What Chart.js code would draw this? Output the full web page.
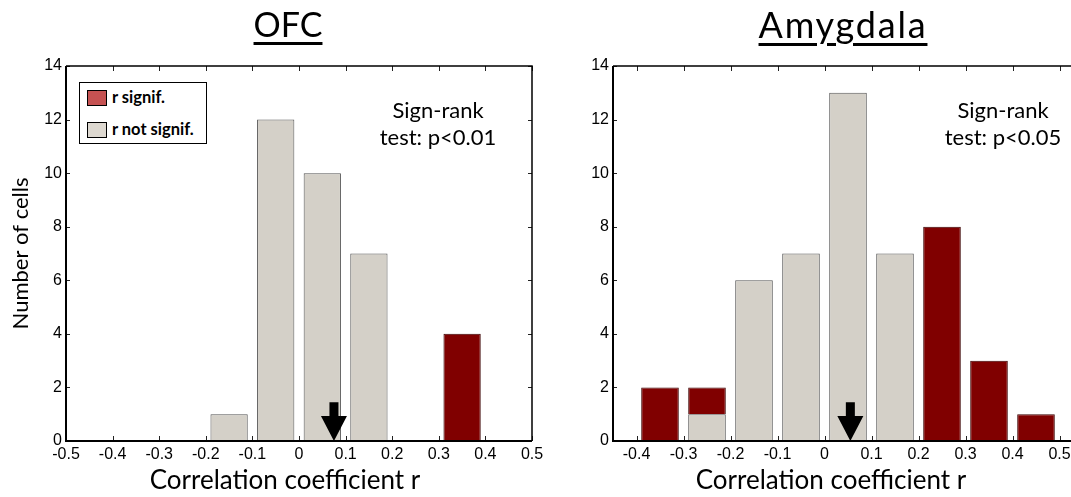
<!DOCTYPE html>
<html>
<head>
<meta charset="utf-8">
<script src="https://cdn.jsdelivr.net/npm/chart.js@4.4.1/dist/chart.umd.min.js"></script>
<style>
    html, body { margin: 0; padding: 0; width: 1071px; height: 497px; overflow: hidden; background: #fff; }
    #wrap { position: relative; width: 1071px; height: 497px; overflow: hidden; }
    canvas { position: absolute; top: 0; }
    #ofcChart { left: 0; }
    #amyChart { left: 540px; }
    .panelTitle {
        position: absolute; top: 7px; transform: translateX(-50%);
        font-family: Lato, sans-serif; font-size: 34px; line-height: 1; white-space: nowrap;
        text-decoration: underline; text-decoration-thickness: 3px; text-underline-offset: 5px;
    }
    .note {
        position: absolute; top: 96px; transform: translateX(-50%);
        font-family: Lato, sans-serif; font-size: 22px; line-height: 27px;
        text-align: center; white-space: nowrap;
    }
    #legend {
        position: absolute; left: 79px; top: 82px; width: 126px; height: 60px;
        border: 1.5px solid #000; background: #fff;
        font-family: Lato, sans-serif; font-weight: bold; font-size: 16.5px;
    }
    #legend .sw { position: absolute; left: 7px; width: 18px; height: 14px; border: 1px solid #000; }
    #legend .lb { position: absolute; left: 32px; line-height: 18px; white-space: nowrap; }
</style>
</head>
<body>
<div id="wrap">
    <canvas id="ofcChart" width="570" height="497"></canvas>
    <canvas id="amyChart" width="582" height="497"></canvas>

    <div class="panelTitle" style="left:288px;">OFC</div>
    <div class="panelTitle" style="left:843px; top:6px; font-size:36px; letter-spacing:1.8px;">Amygdala</div>

    <div class="note" style="left:438px;">Sign-rank<br>test: p&lt;0.01</div>
    <div class="note" style="left:1003px;">Sign-rank<br>test: p&lt;0.05</div>

    <div id="legend">
        <div class="sw" style="top:7px; background:#c55252;"></div>
        <div class="lb" style="top:5px;">r signif.</div>
        <div class="sw" style="top:39px; background:#ddd8d0;"></div>
        <div class="lb" style="top:37px;">r not signif.</div>
    </div>
</div>

<script>
// Histogram bins (centre of each 0.1-wide bin)
const binCenters = [-0.45, -0.35, -0.25, -0.15, -0.05, 0.05, 0.15, 0.25, 0.35, 0.45];

// OFC counts
const ofcNotSig = [0, 0, 0, 1, 12, 10, 7, 0, 0, 0];
const ofcSig    = [0, 0, 0, 0, 0, 0, 0, 0, 4, 0];

// Amygdala counts
const amyNotSig = [0, 0, 1, 6, 7, 13, 7, 0, 0, 0];
const amySig    = [0, 2, 1, 0, 0, 0, 0, 8, 3, 1];

// Tick labels
const ofcTicks = [-0.5, -0.4, -0.3, -0.2, -0.1, 0, 0.1, 0.2, 0.3, 0.4, 0.5];
const amyTicks = [-0.4, -0.3, -0.2, -0.1, 0, 0.1, 0.2, 0.3, 0.4, 0.5];
const yTicks = [0, 2, 4, 6, 8, 10, 12, 14];

// Median arrows
const ofcMedian = 0.075;
const amyMedian = 0.055;
const arrowTop = 1.45;

const GREY = '#d4d0c8';
const RED = '#800000';

function toPoints(counts) {
    return binCenters.map((c, i) => ({ x: c, y: counts[i] === 0 ? null : counts[i] }));
}

// draws MATLAB-like box, inward ticks and the median arrow
const framePlugin = {
    id: 'frame',
    afterDatasetsDraw(chart, args, opts) {
        const { ctx, chartArea: a, scales: { x, y } } = chart;
        ctx.save();

        // inward tick marks
        ctx.strokeStyle = '#222';
        ctx.lineWidth = 1;
        ctx.beginPath();
        x.ticks.forEach(t => {
            const px = Math.round(x.getPixelForValue(t.value)) + 0.5;
            ctx.moveTo(px, a.bottom); ctx.lineTo(px, a.bottom - 5);
            ctx.moveTo(px, a.top); ctx.lineTo(px, a.top + 5);
        });
        y.ticks.forEach(t => {
            const py = Math.round(y.getPixelForValue(t.value)) + 0.5;
            ctx.moveTo(a.left, py); ctx.lineTo(a.left + 4, py);
            ctx.moveTo(a.right, py); ctx.lineTo(a.right - 4, py);
        });
        ctx.stroke();

        // box
        ctx.strokeStyle = '#000';
        ctx.lineWidth = 1.5;
        ctx.beginPath();
        ctx.moveTo(a.left, a.top); ctx.lineTo(a.right, a.top); ctx.lineTo(a.right, a.bottom);
        ctx.stroke();
        ctx.lineWidth = 2;
        ctx.beginPath();
        ctx.moveTo(a.left, a.top); ctx.lineTo(a.left, a.bottom); ctx.lineTo(a.right, a.bottom);
        ctx.stroke();

        // median arrow
        const ax = x.getPixelForValue(opts.at);
        const top = y.getPixelForValue(opts.top);
        const tip = y.getPixelForValue(0);
        const headH = 25, headW = 13, shaftW = 4.5;
        ctx.fillStyle = '#000';
        ctx.beginPath();
        ctx.moveTo(ax - shaftW, top);
        ctx.lineTo(ax + shaftW, top);
        ctx.lineTo(ax + shaftW, tip - headH);
        ctx.lineTo(ax + headW, tip - headH);
        ctx.lineTo(ax, tip);
        ctx.lineTo(ax - headW, tip - headH);
        ctx.lineTo(ax - shaftW, tip - headH);
        ctx.closePath();
        ctx.fill();

        ctx.restore();
    }
};

function makeChart(id, notSig, sig, xTickVals, xMin, xMax, median, yWidth, padWidth, yTitle) {
    return new Chart(document.getElementById(id), {
        type: 'bar',
        data: {
            datasets: [
                {
                    label: 'r not signif.',
                    data: toPoints(notSig),
                    backgroundColor: GREY,
                    borderColor: '#555',
                    borderWidth: 1,
                    xAxisID: 'x', yAxisID: 'y'
                },
                {
                    label: 'r signif.',
                    data: toPoints(sig),
                    backgroundColor: RED,
                    borderColor: '#3a0000',
                    borderWidth: 1,
                    xAxisID: 'x', yAxisID: 'y'
                }
            ]
        },
        options: {
            responsive: false,
            animation: false,
            devicePixelRatio: 1,
            layout: { padding: { top: 66, left: 0, right: 0, bottom: 0 } },
            datasets: { bar: { categoryPercentage: 1, barPercentage: 0.8 } },
            scales: {
                x: {
                    type: 'linear',
                    min: xMin, max: xMax,
                    offset: false,
                    stacked: true,
                    grid: { display: false, drawTicks: false, offset: false },
                    border: { display: false },
                    afterBuildTicks: s => { s.ticks = xTickVals.map(v => ({ value: v })); },
                    afterFit: s => { s.height = 25; },
                    ticks: {
                        padding: 4,
                        color: '#000',
                        maxRotation: 0,
                        autoSkip: false,
                        font: { family: 'Liberation Sans', size: 16 },
                        callback: v => String(Number(v.toFixed(1)))
                    }
                },
                y: {
                    type: 'linear',
                    min: 0, max: 14,
                    stacked: true,
                    grid: { display: false, drawTicks: false },
                    border: { display: false },
                    afterBuildTicks: s => { s.ticks = yTicks.map(v => ({ value: v })); },
                    afterFit: s => { s.width = yWidth; },
                    ticks: {
                        padding: 4,
                        color: '#000',
                        font: { family: 'Liberation Sans', size: 16 }
                    },
                    title: {
                        display: !!yTitle,
                        text: yTitle || '',
                        color: '#000',
                        font: { family: 'Lato', size: 22, lineHeight: 1.2 },
                        padding: { top: 8, bottom: 0 }
                    }
                },
                pad: {
                    type: 'linear',
                    position: 'right',
                    grid: { display: false, drawTicks: false },
                    border: { display: false },
                    ticks: { display: false },
                    afterFit: s => { s.width = padWidth; }
                }
            },
            plugins: {
                legend: { display: false },
                tooltip: { enabled: false },
                title: {
                    display: true,
                    position: 'bottom',
                    text: 'Correlation coefficient r',
                    color: '#000',
                    font: { family: 'Lato', size: 26, weight: 'normal', lineHeight: 1.0 },
                    padding: { top: 2, bottom: 3 }
                },
                frame: { at: median, top: arrowTop }
            }
        },
        plugins: [framePlugin]
    });
}

makeChart('ofcChart', ofcNotSig, ofcSig, ofcTicks, -0.5, 0.5, ofcMedian, 66, 38, 'Number of cells');
makeChart('amyChart', amyNotSig, amySig, amyTicks, -0.45, 0.55, amyMedian, 73, 39, null);
</script>
</body>
</html>
